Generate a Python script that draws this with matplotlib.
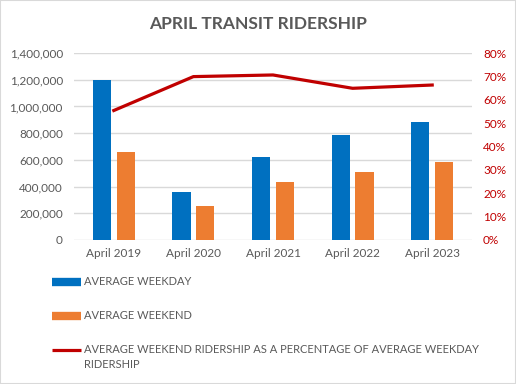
import matplotlib.pyplot as plt
import numpy as np
from matplotlib.lines import Line2D
from matplotlib.patches import Rectangle
from matplotlib.ticker import FuncFormatter

plt.rcParams['font.family'] = ['Lato', 'DejaVu Sans']

years = ['April 2019', 'April 2020', 'April 2021', 'April 2022', 'April 2023']
weekday = [1200000, 357000, 622000, 785000, 882000]
weekend = [662000, 255000, 435000, 507000, 582000]
pct = [55.4, 69.9, 70.6, 64.9, 66.3]

grey = '#595959'
blue = '#0070C0'
orange = '#ED7D31'
red = '#C00000'

fig = plt.figure(figsize=(5.16, 3.84), dpi=100)
ax = fig.add_axes([74/516, 1-240/384, 398/516, 187/384])
ax2 = ax.twinx()

x = np.arange(len(years))
w = 0.23
ax.bar(x - 0.15, weekday, w, color=blue, zorder=3)
ax.bar(x + 0.15, weekend, w, color=orange, zorder=3)
ax.set_xlim(-0.5, 4.5)
ax.set_ylim(0, 1400000)
ax.set_yticks(range(0, 1400001, 200000))
ax.yaxis.set_major_formatter(FuncFormatter(lambda v, p: f'{int(v):,}'))
ax.set_xticks(x)
ax.set_xticklabels(years)
ax.grid(axis='y', color='#D9D9D9', lw=1, zorder=0)
ax.tick_params(length=0, labelsize=8.5, colors=grey, pad=8)
ax.tick_params(axis='x', pad=6)

ax2.plot(x, pct, color=red, lw=2.3, zorder=4)
ax2.set_ylim(0, 80)
ax2.set_yticks(range(0, 81, 10))
ax2.yaxis.set_major_formatter(FuncFormatter(lambda v, p: f'{int(v)}%'))
ax2.tick_params(length=0, labelsize=8.5, colors=red, pad=8)

for a in (ax, ax2):
    for s in a.spines.values():
        s.set_visible(False)

fig.text(0.5, 1-24/384, 'APRIL TRANSIT RIDERSHIP', ha='center', va='center',
         fontsize=12.5, fontweight='bold', color=grey)

# legend drawn below the plot
items = [('AVERAGE WEEKDAY', blue, 6, 282),
         ('AVERAGE WEEKEND', orange, 6, 316),
         ('AVERAGE WEEKEND RIDERSHIP AS A PERCENTAGE OF AVERAGE WEEKDAY\nRIDERSHIP', red, 2.3, 350)]
for label, c, lw, yp in items:
    y = 1 - yp/384
    fig.add_artist(Line2D([52/516, 81/516], [y, y], color=c, lw=lw, solid_capstyle='butt'))
    fig.text(84/516, y + 6/384, label, ha='left', va='top', fontsize=8,
             color=grey, linespacing=1.5)

fig.add_artist(Rectangle((0, 0), 1, 1, transform=fig.transFigure, fill=False,
                         edgecolor='#D9D9D9', lw=1.5))

fig.savefig('out.png', dpi=100)
